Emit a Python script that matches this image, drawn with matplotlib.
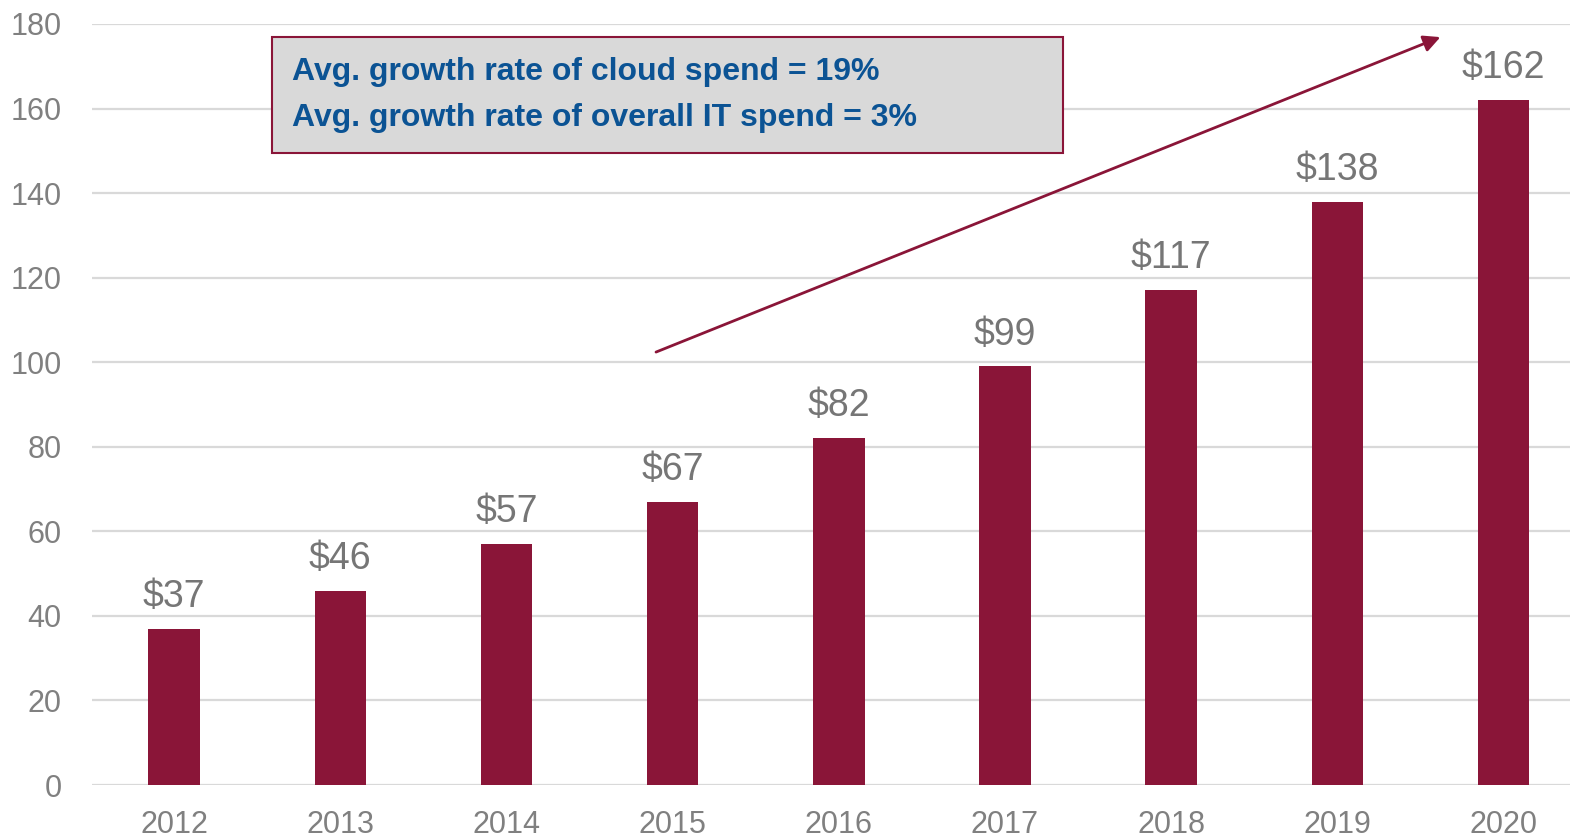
import matplotlib
matplotlib.use("Agg")
import matplotlib.pyplot as plt
from matplotlib.patches import Rectangle

# data
years = ["2012", "2013", "2014", "2015", "2016", "2017", "2018", "2019", "2020"]
spend = [37, 46, 57, 67, 82, 99, 117, 138, 162]
value_labels = ["$" + str(v) for v in spend]
y_ticks = [0, 20, 40, 60, 80, 100, 120, 140, 160, 180]
box_lines = ["Avg. growth rate of cloud spend = 19%",
             "Avg. growth rate of overall IT spend = 3%"]

bar_color = "#8a1538"
grey = "#808080"
plt.rcParams["font.family"] = ["Liberation Sans", "DejaVu Sans"]

fig = plt.figure(figsize=(15.7, 8.36), dpi=100)
ax = fig.add_axes([0.0586, 0.061, 0.9414, 0.9103])

x = list(range(len(years)))
ax.bar(x, spend, width=0.31, color=bar_color, zorder=3)

# value labels above bars
for xi, v, lab in zip(x, spend, value_labels):
    ax.annotate(lab, (xi, v), xytext=(0, 10), textcoords="offset points",
                ha="center", va="bottom", fontsize=27, color="#767676")

ax.set_xlim(-0.494, 8.4)
ax.set_ylim(0, 180)
ax.set_xticks(x)
ax.set_xticklabels(years)
ax.set_yticks(y_ticks)
ax.tick_params(axis="both", length=0, labelsize=22, labelcolor=grey)
ax.tick_params(axis="x", pad=18)
ax.tick_params(axis="y", pad=22)
ax.grid(axis="y", color="#d9d9d9", linewidth=1.6, zorder=0)
for s in ax.spines.values():
    s.set_visible(False)

# trend arrow
ax.annotate("", xy=(7.62, 176.9), xytext=(2.90, 102.4),
            arrowprops=dict(arrowstyle="-|>", color=bar_color, lw=2,
                            mutation_scale=25, shrinkA=0, shrinkB=0),
            zorder=4)

# growth-rate box
box = Rectangle((0.1732, 0.817), 0.5038, 0.1388, transform=fig.transFigure,
                facecolor="#d9d9d9", edgecolor=bar_color, linewidth=1.5, zorder=5)
fig.patches.append(box)
fig.text(0.186, (836 - 72) / 836, box_lines[0], fontsize=23, fontweight="bold",
         color="#0b5394", va="center", ha="left", zorder=6)
fig.text(0.186, (836 - 118) / 836, box_lines[1], fontsize=23, fontweight="bold",
         color="#0b5394", va="center", ha="left", zorder=6)

fig.savefig("out.png", dpi=100)
